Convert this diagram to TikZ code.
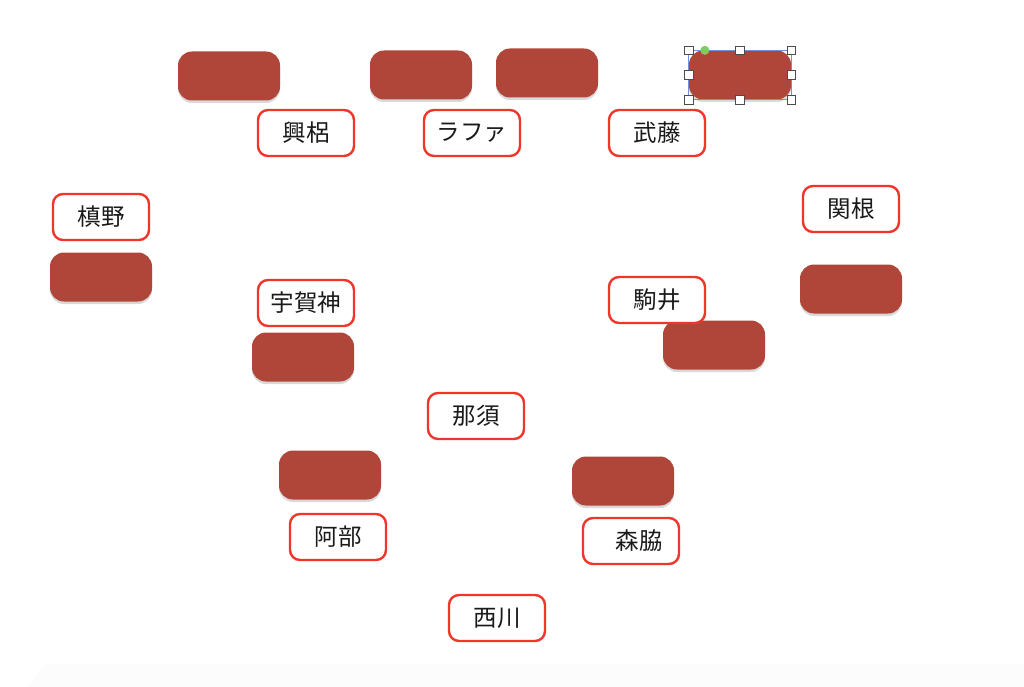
\documentclass[tikz,border=0pt]{standalone}
\usepackage{fontspec}
\newfontfamily\jp{Noto Sans CJK JP}
\usetikzlibrary{shadows}
\definecolor{brick}{HTML}{B0463A}
\definecolor{ring}{HTML}{F0352A}
\definecolor{ink}{HTML}{1A1A1A}
\definecolor{pick}{HTML}{7090E0}
\definecolor{dot}{HTML}{7CD05A}
\definecolor{floor}{HTML}{FCFCFC}

\begin{document}
\begin{tikzpicture}[x=1pt,y=-1pt,
  card/.style={fill=brick,rounded corners=14pt,minimum width=102pt,minimum height=49pt,
    drop shadow={opacity=0.3,shadow xshift=0pt,shadow yshift=-2.5pt}},
  tag/.style={draw=ring,line width=2.4pt,fill=white,rounded corners=10pt,minimum width=96pt,
    minimum height=46pt,inner sep=0pt,font=\jp\fontsize{23.5}{27}\selectfont,text=ink},
  grip/.style={draw=black!70,fill=white,line width=0.6pt,minimum size=8.5pt,inner sep=0pt}]
\useasboundingbox (0,0) rectangle (1024,687);
\fill[floor] (28,687) -- (45,664) -- (1024,664) -- (1024,687) -- cycle;

\node[card] (c1) at (229,76) {};
\node[card] (c2) at (421,75) {};
\node[card] (c3) at (547,73) {};
\node[card] (c4) at (740,75) {};
\node[card] (c5) at (101,277) {};
\node[card] (c6) at (303,357) {};
\node[card] (c7) at (714,345) {};
\node[card] (c8) at (851,289) {};
\node[card] (c9) at (330,475) {};
\node[card] (c10) at (623,481) {};

\node[tag] (koroki) at (306,133) {興梠};
\node[tag] (rafa) at (472,133) {ラファ};
\node[tag] (muto) at (657,133) {武藤};
\node[tag] (makino) at (101,217) {槙野};
\node[tag] (sekine) at (851,209) {関根};
\node[tag] (ugajin) at (306,303) {宇賀神};
\node[tag] (komai) at (657,300) {駒井};
\node[tag] (nasu) at (476,416) {那須};
\node[tag] (abe) at (338,537) {阿部};
\node[tag] (moriwaki) at (631,541) {\hspace*{16pt}森脇};
\node[tag] (nishikawa) at (497,618) {西川};

\draw[pick,line width=0.8pt] (c4.north west) rectangle (c4.south east);
\foreach \a in {north west,north,north east,east,south east,south,south west,west}
  \node[grip] at (c4.\a) {};
\fill[dot] ([xshift=16pt]c4.north west) circle (4.5pt);
\end{tikzpicture}
\end{document}
